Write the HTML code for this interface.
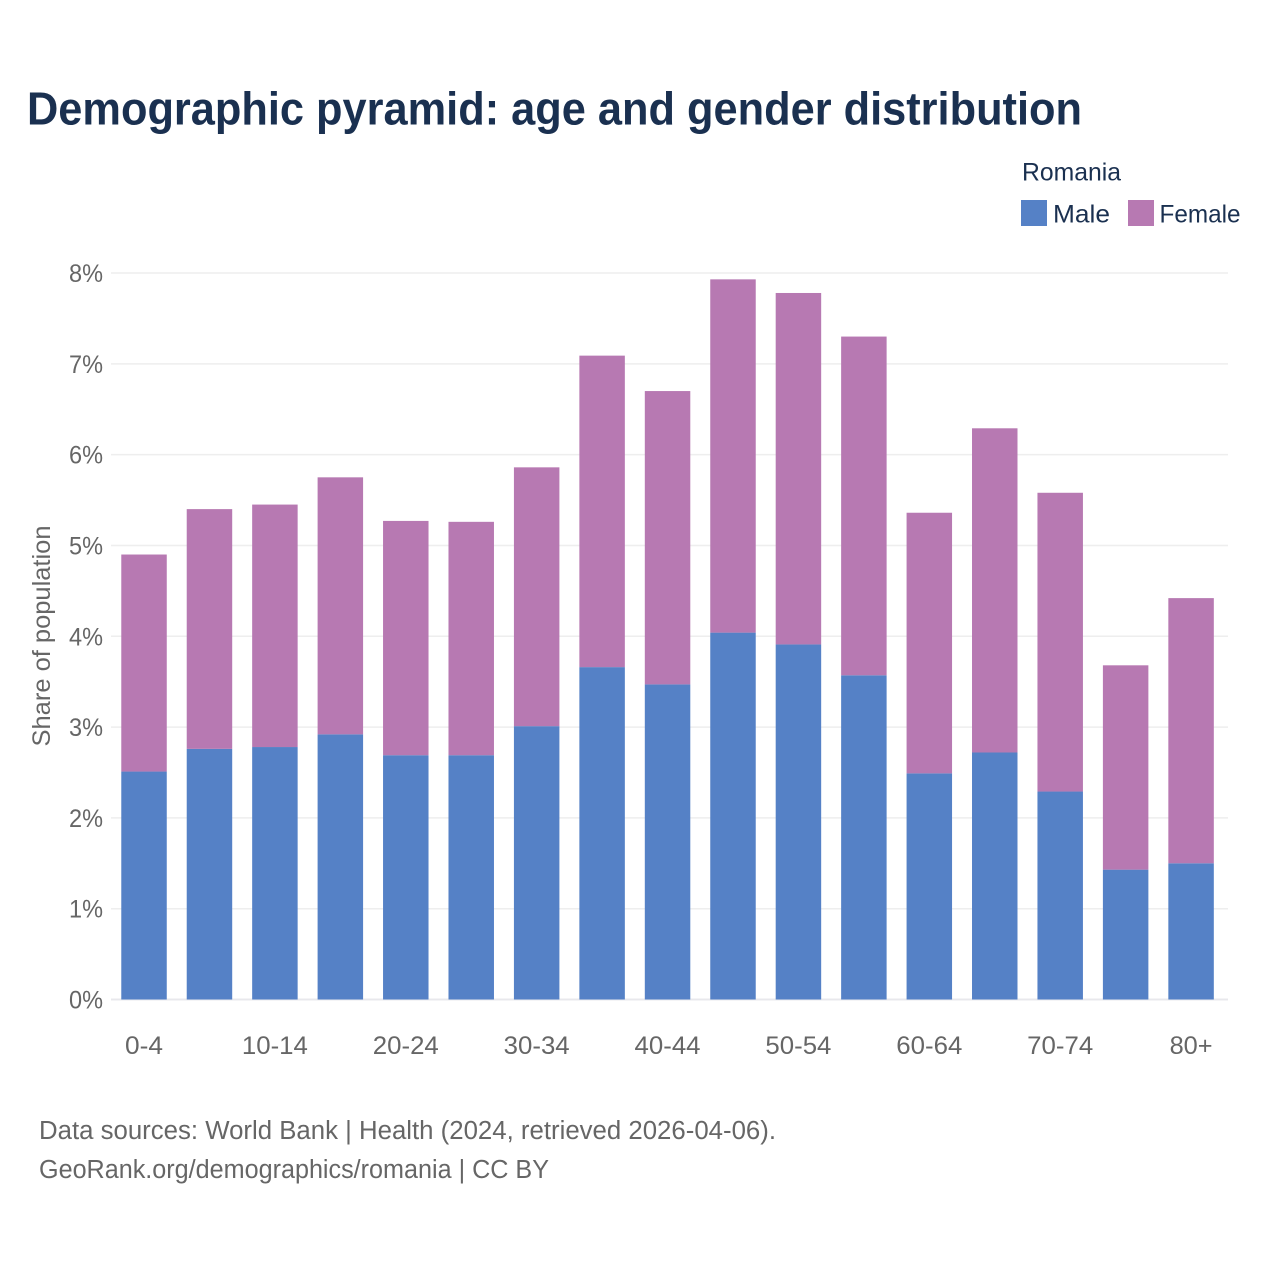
<!DOCTYPE html>
<html lang="en">
<head>
<meta charset="utf-8">
<title>Demographic pyramid: age and gender distribution</title>
<style>
html,body{margin:0;padding:0;background:#fff;}
svg{display:block;font-family:"Liberation Sans",sans-serif;}
</style>
</head>
<body>
<svg id="chart" xmlns="http://www.w3.org/2000/svg" width="1280" height="1280" viewBox="0 0 1280 1280">
  <rect width="1280" height="1280" fill="#ffffff"/>
  <text x="27" y="124.5" font-size="46" font-weight="700" fill="#1a3050" textLength="1055" lengthAdjust="spacingAndGlyphs">Demographic pyramid: age and gender distribution</text>
  <text x="1022" y="180.5" font-size="25" fill="#1a3050" textLength="99" lengthAdjust="spacingAndGlyphs">Romania</text>
  <g>
    <rect x="1021" y="200" width="26" height="26" fill="#5581c6"/>
    <text x="1053" y="222.5" font-size="25" fill="#1a3050" textLength="57" lengthAdjust="spacingAndGlyphs">Male</text>
  </g>
  <g>
    <rect x="1128" y="200" width="26" height="26" fill="#b779b2"/>
    <text x="1159.5" y="222.5" font-size="25" fill="#1a3050" textLength="81" lengthAdjust="spacingAndGlyphs">Female</text>
  </g>
  <g id="grid"></g>
  <g id="yticks"></g>
  <g id="bars"></g>
  <g id="xticks"></g>
  <text transform="translate(50,636) rotate(-90)" text-anchor="middle" font-size="25" fill="#666666" textLength="221" lengthAdjust="spacingAndGlyphs">Share of population</text>
  <text x="39" y="1139" font-size="25.5" fill="#666666" textLength="737" lengthAdjust="spacingAndGlyphs">Data sources: World Bank | Health (2024, retrieved 2026-04-06).</text>
  <text x="39" y="1178" font-size="25.5" fill="#666666" textLength="510" lengthAdjust="spacingAndGlyphs">GeoRank.org/demographics/romania | CC BY</text>
</svg>
<script>
const categories = ["0-4","5-9","10-14","15-19","20-24","25-29","30-34","35-39","40-44","45-49","50-54","55-59","60-64","65-69","70-74","75-79","80+"];
const maleValues = [2.51,2.76,2.78,2.92,2.69,2.69,3.01,3.66,3.47,4.04,3.91,3.57,2.49,2.72,2.29,1.43,1.50];
const femaleValues = [2.39,2.64,2.67,2.83,2.58,2.57,2.85,3.43,3.23,3.89,3.87,3.73,2.87,3.57,3.29,2.25,2.92];
const yTickValues = [0,1,2,3,4,5,6,7,8];
const xLabelEvery = 2;

const NS = "http://www.w3.org/2000/svg";
const plotLeft = 111, plotRight = 1228, plotBottom = 999.5, plotTop = 273;
const bandLeft = 111.3, bandRight = 1223.8;
const yMax = 8;
const band = (bandRight - bandLeft) / categories.length;
const barWidth = band * 0.695;
function yScale(v){ return plotBottom - (v / yMax) * (plotBottom - plotTop); }
function xCenter(i){ return bandLeft + band * (i + 0.5); }
function make(tag, attrs, parent){
  const el = document.createElementNS(NS, tag);
  for (const k in attrs) el.setAttribute(k, attrs[k]);
  parent.appendChild(el);
  return el;
}
const grid = document.getElementById("grid");
const yticks = document.getElementById("yticks");
const bars = document.getElementById("bars");
const xticks = document.getElementById("xticks");

yTickValues.forEach(function(v){
  const line = make("line", {x1: plotLeft, x2: plotRight, y1: yScale(v), y2: yScale(v), stroke: v === 0 ? "#e8e8ec" : "#eeeeee", "stroke-width": v === 0 ? 2 : 1.5}, grid);
  
  
  const t = make("text", {x: 103, y: yScale(v) + 9, "text-anchor": "end", "font-size": 25, fill: "#666666"}, yticks);
  
  
  t.setAttribute('textLength', 34);
  t.setAttribute('lengthAdjust', 'spacingAndGlyphs');
  t.textContent = v + "%";
});

categories.forEach(function(c, i){
  const x = xCenter(i) - barWidth / 2;
  const m = maleValues[i], f = femaleValues[i];
  const mr = make("rect", {x: x, y: yScale(m), width: barWidth, height: yScale(0) - yScale(m), fill: "#5581c6"}, bars);
  
  
  const fr = make("rect", {x: x, y: yScale(m + f), width: barWidth, height: yScale(m) - yScale(m + f), fill: "#b779b2"}, bars);
  
  
  if (i % xLabelEvery === 0) {
    const t = make("text", {x: xCenter(i), y: 1054, "text-anchor": "middle", "font-size": 25, fill: "#666666"}, xticks);
    
    
    t.setAttribute('textLength', c.length === 3 && c !== "80+" ? 38 : (c === "80+" ? 43 : 66));
    t.setAttribute('lengthAdjust', 'spacingAndGlyphs');
    t.textContent = c;
  }
});
</script>
</body>
</html>
